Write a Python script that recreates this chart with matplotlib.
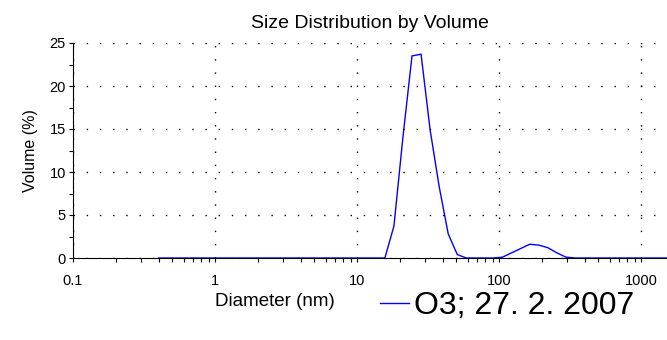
import matplotlib.pyplot as plt
from matplotlib.ticker import LogLocator, NullFormatter, FixedLocator, FixedFormatter

plt.rcParams['font.family'] = ['Liberation Sans', 'DejaVu Sans']

# size classes (nm) and volume (%)
diameter = [0.4, 0.4632, 0.5365, 0.6213, 0.7195, 0.8332, 0.9649, 1.117, 1.294, 1.499,
            1.736, 2.01, 2.328, 2.696, 3.122, 3.615, 4.187, 4.849, 5.615, 6.503,
            7.531, 8.721, 10.1, 11.7, 13.54, 15.69, 18.17, 21.04, 24.36, 28.21,
            32.67, 37.84, 43.82, 50.75, 58.77, 68.06, 78.82, 91.28, 105.7, 122.4,
            141.8, 164.2, 190.1, 220.2, 255.0, 295.3, 342.0, 396.1, 458.7, 531.2,
            615.1, 712.4, 825.0, 955.4, 1106, 1281, 1484, 1718]
volume = [0, 0, 0, 0, 0, 0, 0, 0, 0, 0,
          0, 0, 0, 0, 0, 0, 0, 0, 0, 0,
          0, 0, 0, 0, 0, 0, 3.7, 14.1, 23.5, 23.7,
          14.9, 8.3, 2.8, 0.4, 0, 0, 0, 0, 0.1, 0.6,
          1.1, 1.6, 1.5, 1.2, 0.6, 0.1, 0, 0, 0, 0,
          0, 0, 0, 0, 0, 0, 0, 0]

xticks = [0.1, 1, 10, 100, 1000]
xtick_labels = ['0.1', '1', '10', '100', '1000']
yticks = [0, 5, 10, 15, 20, 25]

fig = plt.figure(figsize=(6.67, 3.40), dpi=100)
ax = fig.add_axes([73 / 667, 1 - 258 / 340, 1 - 73 / 667, (258 - 43) / 340])

ax.plot(diameter, volume, color='#0000ff', lw=1.0, label='O3; 27. 2. 2007')
ax.set_xscale('log')
ax.set_xlim(0.1, 1520)
ax.set_ylim(0, 25)

ax.xaxis.set_major_locator(FixedLocator(xticks))
ax.xaxis.set_major_formatter(FixedFormatter(xtick_labels))
ax.xaxis.set_minor_locator(LogLocator(base=10, subs=range(2, 10), numticks=20))
ax.xaxis.set_minor_formatter(NullFormatter())
ax.set_yticks(yticks)
ax.set_yticks([2.5, 7.5, 12.5, 17.5, 22.5], minor=True)

for s in ['top', 'right']:
    ax.spines[s].set_visible(False)
ax.spines['left'].set_linewidth(0.8)
ax.spines['bottom'].set_linewidth(0.8)

ax.tick_params(which='both', direction='out', length=3.2, width=0.8, labelsize=10.5)
ax.tick_params(axis='x', pad=8)
ax.tick_params(axis='y', pad=2)
ax.grid(True, which='major', color='black', linestyle=(0, (1, 8.5)), linewidth=1.0)

ax.set_ylabel('Volume (%)', fontsize=11.5, labelpad=8)
ax.set_title('Size Distribution by Volume', fontsize=14, pad=11)

fig.text(275 / 667, 1 - 301 / 340, 'Diameter (nm)', ha='center', va='center', fontsize=13.5)
fig.legend(loc='center left', bbox_to_anchor=(380 / 667, 1 - 306 / 340), frameon=False,
           fontsize=23, handlelength=0.9, handletextpad=0.15, borderpad=0, borderaxespad=0)

fig.savefig('out.png', dpi=100)
